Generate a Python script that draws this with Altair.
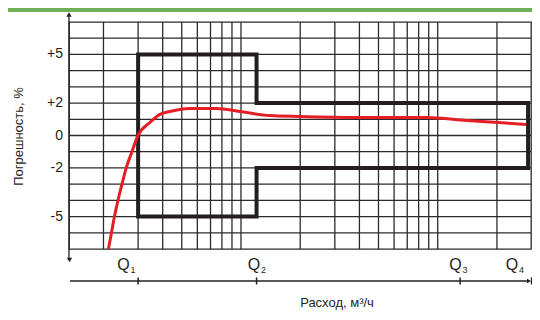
import altair as alt
import pandas as pd

# ---- scales / grid ----
x_domain = [0.668, 149]
y_domain = [-7, 7]
x_grid = [1, 1.5, 2, 2.5, 3, 3.5, 4, 4.5, 5, 10, 15, 20, 25, 30, 35, 40, 45, 50, 100]
y_grid = [-6, -5, -4, -3, -2, -1, 0, 1, 2, 3, 4, 5, 6]
y_labels = [-5, -2, 0, 2, 5]
y_label_text = ["-5", "-2", "0", "+2", "+5"]

# ---- limits box (error envelope) ----
box_x = [1.5, 1.5, 6, 6, 144, 144, 6, 6, 1.5]
box_y = [-5, 5, 5, 2, 2, -2, -2, -5, -5]

# ---- error curve ----
curve_x = [1.060, 1.098, 1.137, 1.185, 1.242, 1.305, 1.396, 1.497, 1.722, 1.935, 2.176,
           2.749, 3.77, 4.93, 7.0, 9.94, 20.0, 43.9, 70.0, 141]
curve_y = [-7.0, -6.0, -5.0, -4.0, -3.0, -2.0, -1.0, 0.0, 0.8, 1.3, 1.48,
           1.67, 1.67, 1.48, 1.23, 1.17, 1.11, 1.11, 0.93, 0.68]

# ---- flow points ----
q_letter = ["Q", "Q", "Q", "Q"]
q_sub = ["1", "2", "3", "4"]
q_tick_x = [1.5, 6, 65, 150]
q_label_x = [1.264, 5.82, 61.6, 119.4]

x_title = "Расход, м³/ч"
y_title = "Погрешность, %"

GRID = "#2b2b2b"
INK = "#231f20"
RED = "#e31e24"
GREEN = "#6fb056"
FONT = "Liberation Sans"

xs = alt.Scale(type="log", domain=x_domain, nice=False)
ys = alt.Scale(domain=y_domain, nice=False, zero=False)

one = pd.DataFrame({"a": [0]})
df_vg = pd.DataFrame({"x": x_grid})
df_hg = pd.DataFrame({"y": y_grid})
df_yl = pd.DataFrame({"y": y_labels, "t": y_label_text})
df_box = pd.DataFrame({"x": box_x, "y": box_y, "i": list(range(len(box_x)))})
df_curve = pd.DataFrame({"x": curve_x, "y": curve_y})
df_q = pd.DataFrame({"tx": q_tick_x, "lx": q_label_x, "q": q_letter, "s": q_sub})

vgrid = alt.Chart(df_vg).mark_rule(color=GRID, strokeWidth=1.3).encode(
    x=alt.X("x:Q", scale=xs, axis=None)
)
hgrid = alt.Chart(df_hg).mark_rule(color=GRID, strokeWidth=1.3).encode(
    y=alt.Y("y:Q", scale=ys, axis=None)
)
ylab = alt.Chart(df_yl).mark_text(font=FONT, fontSize=14, color=INK, align="right",
                                  baseline="middle").encode(
    x=alt.value(-6), y=alt.Y("y:Q", scale=ys, axis=None), text="t:N")
box = alt.Chart(df_box).mark_line(color=INK, strokeWidth=4, strokeJoin="miter",
                                  strokeCap="square").encode(
    x=alt.X("x:Q", scale=xs, axis=None),
    y=alt.Y("y:Q", scale=ys, axis=None),
    order="i:O",
)
curve = alt.Chart(df_curve).mark_line(color=RED, strokeWidth=3, interpolate="monotone").encode(
    x=alt.X("x:Q", scale=xs, axis=None),
    y=alt.Y("y:Q", scale=ys, axis=None),
)

# y axis line with arrows
yline = alt.Chart(one).mark_rule(color=INK, strokeWidth=1.3).encode(
    x=alt.value(0), y=alt.value(-8), y2=alt.value(238))
yarr_up = alt.Chart(one).mark_point(shape="triangle-up", filled=True, size=28,
                                    color=INK, opacity=1).encode(
    x=alt.value(0), y=alt.value(-7.5))
yarr_dn = alt.Chart(one).mark_point(shape="triangle-down", filled=True, size=28,
                                    color=INK, opacity=1).encode(
    x=alt.value(0.5), y=alt.value(238))

# bottom flow axis
xline = alt.Chart(one).mark_rule(color=INK, strokeWidth=1.3).encode(
    x=alt.value(1), x2=alt.value(460), y=alt.value(259))
xarr = alt.Chart(one).mark_point(shape="triangle-right", filled=True, size=22,
                                 color=INK, opacity=1).encode(
    x=alt.value(460), y=alt.value(259))
qticks = alt.Chart(df_q).mark_rule(color=INK, strokeWidth=1.5).encode(
    x=alt.X("tx:Q", scale=xs, axis=None), y=alt.value(255.5), y2=alt.value(262.5))
qlab = alt.Chart(df_q).mark_text(font=FONT, fontSize=16, color=INK, align="center",
                                 baseline="alphabetic").encode(
    x=alt.X("lx:Q", scale=xs, axis=None), y=alt.value(247.5), text="q:N")
qsub = alt.Chart(df_q).mark_text(font=FONT, fontSize=9, color=INK, align="left",
                                 baseline="alphabetic", dx=7).encode(
    x=alt.X("lx:Q", scale=xs, axis=None), y=alt.value(251), text="s:N")

xt = alt.Chart(one).mark_text(font=FONT, fontSize=13, color=INK, align="center",
                              baseline="alphabetic", text=x_title).encode(
    x=alt.value(268), y=alt.value(285))
yt = alt.Chart(one).mark_text(font=FONT, fontSize=13, color=INK, align="center",
                              baseline="middle", angle=270, text=y_title).encode(
    x=alt.value(-50), y=alt.value(114.5))

green = alt.Chart(one).mark_rect(color=GREEN).encode(
    x=alt.value(-61), x2=alt.value(463), y=alt.value(-14), y2=alt.value(-10))

chart = alt.layer(
    vgrid, hgrid, ylab, box, curve, yline, yarr_up, yarr_dn, xline, xarr, qticks,
    qlab, qsub, xt, yt, green
).properties(
    width=462, height=227,
    padding={"left": 61, "top": 14, "right": 1, "bottom": 63},
    autosize="none",
    background="white",
).configure_view(stroke=GRID, strokeWidth=1.3)

chart.save("out.html", embed_options={"renderer": "svg", "actions": False})
